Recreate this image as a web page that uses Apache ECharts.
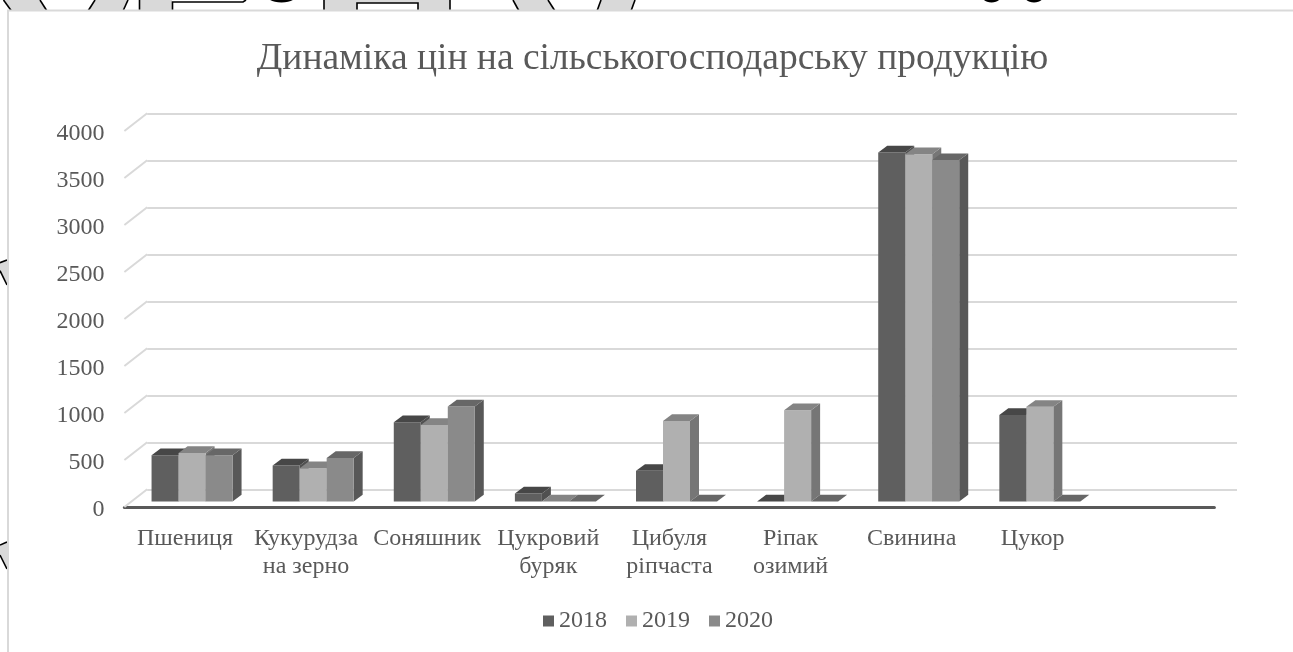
<!DOCTYPE html>
<html>
<head>
<meta charset="utf-8">
<title>Динаміка цін</title>
<script src="https://cdn.jsdelivr.net/npm/echarts@6/dist/echarts.min.js"></script>
<style>
  html, body { margin: 0; padding: 0; background: #fff; }
  #chart { width: 1293px; height: 652px; }
</style>
</head>
<body>
<div id="chart"></div>
<script>
const chartTitle = 'Динаміка цін на сільськогосподарську продукцію';
const categories = ['Пшениця', 'Кукурудза\nна зерно', 'Соняшник', 'Цукровий\nбуряк',
  'Цибуля\nріпчаста', 'Ріпак\nозимий', 'Свинина', 'Цукор', ''];
const years = ['2018', '2019', '2020'];
const values2018 = [493, 383, 843, 85, 326, 0, 3713, 921];
const values2019 = [517, 354, 815, 0, 857, 971, 3695, 1007];
const values2020 = [493, 464, 1010, 0, 0, 0, 3632, 0];
const yTicks = [0, 500, 1000, 1500, 2000, 2500, 3000, 3500, 4000];

// Face shades of each year's column: front, top, side.
const shades = [
  { front: '#5f5f5f', top: '#474747', side: '#505050' },
  { front: '#b0b0b0', top: '#848484', side: '#767676' },
  { front: '#8a8a8a', top: '#676767', side: '#585858' }
];
const gridColor = '#d9d9d9';
const textColor = '#595959';
const serif = '"Liberation Serif", "Times New Roman", serif';

// Oblique projection of the chart box and of a single column.
const wallDx = 22.8, wallDy = 17.7;
const floorDx = 7.1, floorDy = 5.5;
const barDx = 9, barDy = 6.7;
const barWidth = 27;

function renderBar(params, api) {
  const cat = api.value(0), val = api.value(1);
  const base = api.coord([cat, 0]);
  const head = api.coord([cat, val]);
  const look = shades[params.seriesIndex - 1];
  const x0 = base[0] + floorDx - barWidth * 1.5 + (params.seriesIndex - 1) * barWidth;
  const x1 = x0 + barWidth;
  const yb = base[1] - floorDy;
  const yt = head[1] - floorDy;
  const kids = [];
  if (val > 0) {
    kids.push({ type: 'polygon', shape: { points: [[x1, yt], [x1 + barDx, yt - barDy], [x1 + barDx, yb - barDy], [x1, yb]] }, style: { fill: look.side } });
    kids.push({ type: 'rect', shape: { x: x0, y: yt, width: barWidth, height: yb - yt }, style: { fill: look.front } });
  }
  kids.push({ type: 'polygon', shape: { points: [[x0, yt], [x0 + barDx, yt - barDy], [x1 + barDx, yt - barDy], [x1, yt]] }, style: { fill: look.top } });
  return { type: 'group', children: kids };
}

// Short slanted strokes joining the value labels to the back wall.
function renderWallStep(params, api) {
  const p = api.coord([0, api.value(0)]);
  const x = params.coordSys.x;
  return {
    type: 'line',
    shape: { x1: x, y1: p[1], x2: x + wallDx, y2: p[1] - wallDy },
    style: { stroke: gridColor, lineWidth: 2 }
  };
}

// Page artwork that shows around the chart panel.
const grayFill = { fill: '#d9d9d9', stroke: null };
const ink = { stroke: '#000', lineWidth: 1.6, fill: null };
const polys = [
  [[3.5, 0], [11.5, 11], [47, 11], [40, 0]],
  [[95, 0], [88, 11], [123, 11], [128, 0]],
  [[140, 0], [172, 0], [172, 11], [140, 11]],
  [[324, 0], [450, 0], [450, 11], [324, 11]],
  [[513, 0], [519, 11], [555, 11], [548, 0]],
  [[601, 0], [597, 11], [631, 11], [635, 0]],
  [[0, 262.7], [7, 260], [7, 285], [0, 270.7]],
  [[0, 545], [7, 542], [7, 569], [0, 555]]
];
const strokes = [
  [[3.5, 0], [11.5, 11]], [[40, 0], [47, 11]], [[95, 0], [88, 11]], [[128, 0], [123, 11]],
  [[139.5, 0], [139.5, 11]], [[172.5, 11], [172.5, 2], [243, 2], [246, 0]], [[324, 0], [324, 11]],
  [[357, 11], [357, 3], [418, 3], [418, 11]], [[450, 0], [450, 11]],
  [[513, 0], [519, 11]], [[548, 0], [555, 11]], [[601, 0], [597, 11]], [[635, 0], [631, 11]],
  [[0, 262.7], [7, 260]], [[0, 270.7], [7, 285]], [[0, 545], [7, 542]], [[0, 555], [7, 569]]
];
const artwork = [];
polys.forEach(points => artwork.push({ type: 'polygon', shape: { points }, style: grayFill, silent: true }));
artwork.push({ type: 'rect', shape: { x: 357, y: 3, width: 61, height: 8 }, style: { fill: '#fff' }, silent: true });
strokes.forEach(points => artwork.push({ type: 'polyline', shape: { points }, style: ink, silent: true }));
[[281.5, 13.5], [991.5, 9], [1034, 9]].forEach(([cx, rx]) => artwork.push({
  type: 'ellipse', shape: { cx, cy: -3, rx, ry: 5.5 }, style: { fill: '#000' }, silent: true
}));
artwork.push({
  type: 'rect', shape: { x: 8, y: 10.5, width: 1300, height: 660 },
  style: { fill: '#fff', stroke: gridColor, lineWidth: 2 }, silent: true
});

const chart = echarts.init(document.getElementById('chart'), null, { renderer: 'canvas' });
chart.setOption({
  animation: false,
  backgroundColor: '#fff',
  graphic: artwork,
  title: {
    text: chartTitle,
    left: 647.5,
    top: 35,
    textAlign: 'center',
    textStyle: { fontFamily: serif, fontSize: 37.5, fontWeight: 'normal', color: textColor }
  },
  legend: {
    data: years,
    left: 538,
    top: 604,
    icon: 'rect',
    itemWidth: 11,
    itemHeight: 11,
    itemGap: 19,
    selectedMode: false,
    textStyle: { fontFamily: serif, fontSize: 24, color: textColor }
  },
  grid: [
    { left: 124.4, right: 78.6, top: 131, height: 376 },
    { left: 147.2, right: 56, top: 113.5, height: 376 }
  ],
  xAxis: [
    {
      type: 'category', gridIndex: 0, data: categories,
      axisTick: { show: false },
      axisLine: { lineStyle: { color: textColor, width: 3 } },
      axisLabel: {
        interval: 0, margin: 18, lineHeight: 27.5,
        fontFamily: serif, fontSize: 24, color: textColor
      }
    },
    {
      type: 'category', gridIndex: 1, data: categories,
      axisTick: { show: false }, axisLine: { show: false }, axisLabel: { show: false }
    }
  ],
  yAxis: [
    {
      type: 'value', gridIndex: 0, min: 0, max: 4000, interval: 500,
      axisLine: { show: false }, axisTick: { show: false }, splitLine: { show: false },
      axisLabel: {
        margin: 20, verticalAlign: 'top', lineHeight: 5, formatter: v => String(v),
        fontFamily: serif, fontSize: 24, color: textColor
      }
    },
    {
      type: 'value', gridIndex: 1, min: 0, max: 4000, interval: 500,
      axisLine: { show: false }, axisTick: { show: false }, axisLabel: { show: false },
      splitLine: { lineStyle: { color: gridColor, width: 2 } }
    }
  ],
  series: [
    {
      type: 'custom', name: 'wall', xAxisIndex: 0, yAxisIndex: 0, silent: true,
      renderItem: renderWallStep, encode: { y: 0 }, data: yTicks.map(v => [v]), clip: false
    }
  ].concat([values2018, values2019, values2020].map((vals, k) => ({
    type: 'custom',
    name: years[k],
    xAxisIndex: 0,
    yAxisIndex: 0,
    itemStyle: { color: shades[k].front },
    renderItem: renderBar,
    encode: { x: 0, y: 1 },
    data: vals.map((v, i) => [i, v]),
    clip: false
  })))
});
</script>
</body>
</html>
